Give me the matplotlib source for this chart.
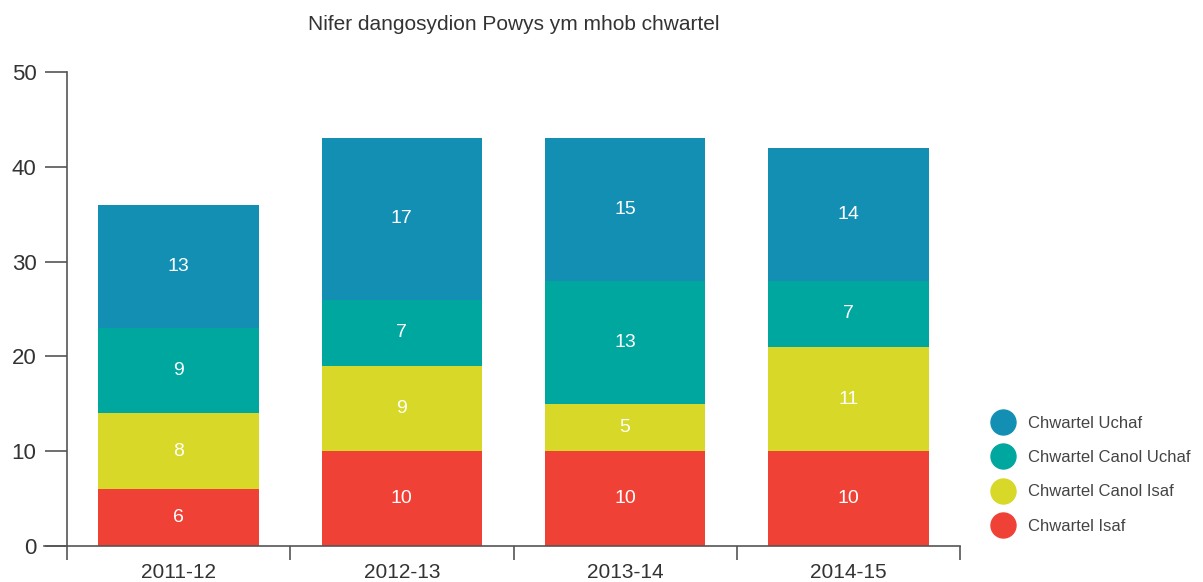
import matplotlib.pyplot as plt
from matplotlib.lines import Line2D

plt.rcParams['font.family'] = ['Liberation Sans', 'DejaVu Sans']

years = ["2011-12", "2012-13", "2013-14", "2014-15"]
isaf = [6, 10, 10, 10]
canol_isaf = [8, 9, 5, 11]
canol_uchaf = [9, 7, 13, 7]
uchaf = [13, 17, 15, 14]

series = [
    ("Chwartel Isaf", isaf, "#ef4136"),
    ("Chwartel Canol Isaf", canol_isaf, "#d7d827"),
    ("Chwartel Canol Uchaf", canol_uchaf, "#00a79e"),
    ("Chwartel Uchaf", uchaf, "#138fb4"),
]

grey = "#555555"
fig = plt.figure(figsize=(12.03, 5.82), dpi=100)
ax = fig.add_axes([67 / 1203, 1 - 546 / 582, 893 / 1203, 474 / 582])

x = list(range(len(years)))
bottom = [0] * len(years)
for name, vals, col in series:
    ax.bar(x, vals, 0.72, bottom=bottom, color=col, label=name)
    for xi, v, b in zip(x, vals, bottom):
        ax.text(xi, b + v / 2, str(v), ha="center", va="center",
                color="white", fontsize=14)
    bottom = [b + v for b, v in zip(bottom, vals)]

ax.set_xlim(-0.5, len(years) - 0.5)
ax.set_ylim(0, 50)
ax.set_yticks([0, 10, 20, 30, 40, 50])
ax.set_xticks(x)
ax.set_xticklabels(years)
ax.set_xticks([i - 0.5 for i in range(len(years) + 1)], minor=True)
ax.tick_params(axis="x", which="major", length=0, pad=12, labelsize=15, labelcolor="#333333")
ax.tick_params(axis="x", which="minor", length=10, width=1.2, color=grey, direction="out")
ax.tick_params(axis="y", length=16, width=1.2, color=grey, labelsize=16,
               labelcolor="#333333", pad=6)

for s in ["top", "right"]:
    ax.spines[s].set_visible(False)
for s in ["left", "bottom"]:
    ax.spines[s].set_color(grey)
    ax.spines[s].set_linewidth(1.2)
ax.plot([-0.026, 0], [0, 0], transform=ax.transAxes, color=grey, lw=1.2, clip_on=False)

ax.set_title("Nifer dangosydion Powys ym mhob chwartel", fontsize=15,
             color="#333333", pad=30)

handles = [Line2D([], [], marker="o", linestyle="", markersize=18, color=col)
           for _, _, col in series[::-1]]
labels = [name for name, _, _ in series[::-1]]
ax.legend(handles, labels, loc="center left", bbox_to_anchor=(1.013, 0.15),
          frameon=False, fontsize=12, labelcolor="#444444", handletextpad=0.5,
          labelspacing=1.15)

fig.savefig("out.png", dpi=100)
